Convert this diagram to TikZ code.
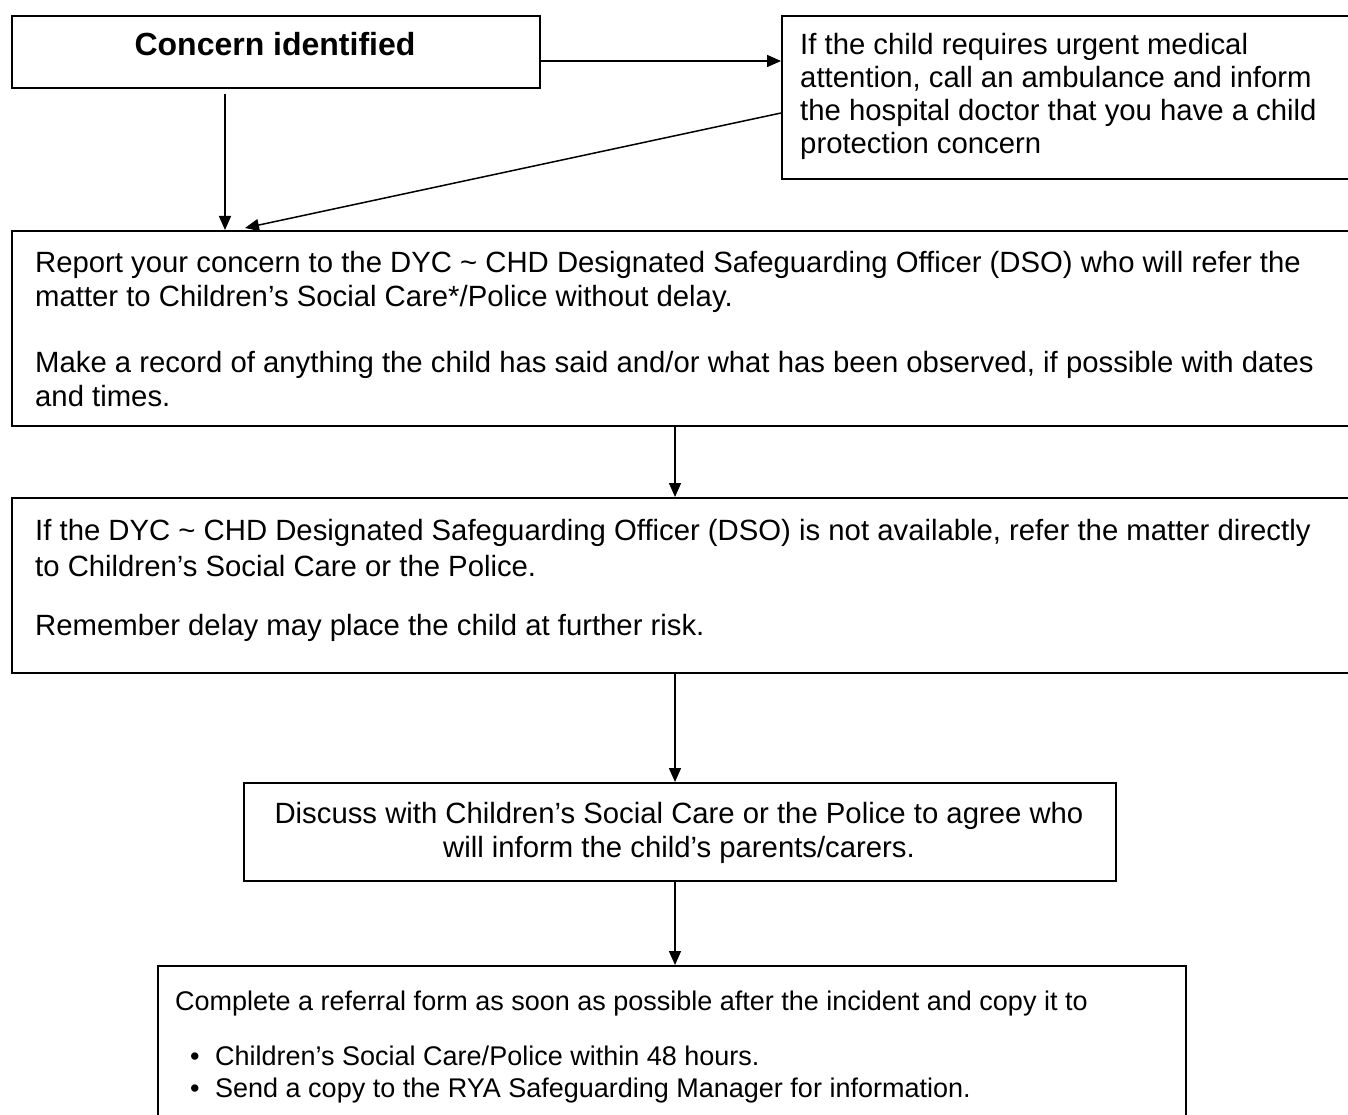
\documentclass[tikz,border=0pt]{standalone}
\usepackage{fontspec}
\setmainfont{Liberation Sans}
\usetikzlibrary{arrows.meta,calc}
\begin{document}
\begin{tikzpicture}[x=1pt,y=-1pt,
  box/.style={draw, line width=1.8pt, rectangle, inner sep=0pt, anchor=north west},
  txt/.style={inner sep=0pt, anchor=base west, align=left, font=\fontsize{29.3}{34}\selectfont},
  ctxt/.style={inner sep=0pt, anchor=base, align=center, font=\fontsize{29.3}{34}\selectfont},
  stxt/.style={txt, font=\fontsize{27}{32}\selectfont},
  arr/.style={line width=1.5pt, -{Triangle[length=14pt,width=12pt]}}]
\useasboundingbox (0,0) rectangle (1348,1115);
\clip (0,0) rectangle (1348,1115);
\node[box, minimum width=528pt, minimum height=72pt] (A) at (11,15) {};
\node[box, minimum width=600pt, minimum height=163pt] (B) at (781,15) {};
\node[box, minimum width=1400pt, minimum height=195pt] (C) at (11,230) {};
\node[box, minimum width=1400pt, minimum height=175pt] (D) at (11,497) {};
\node[box, minimum width=872pt, minimum height=98pt] (E) at (243,782) {};
\node[box, minimum width=1028pt, minimum height=200pt] (F) at (157,965) {};

\node[ctxt, font=\fontsize{32}{36}\selectfont\bfseries] (tA) at (275,56) {Concern identified};
\node[txt, font=\fontsize{29.3}{33}\selectfont] (tB) at (800,154) {If the child requires urgent medical\\attention, call an ambulance and inform\\the hospital doctor that you have a child\\protection concern};
\node[txt] (tC1) at (35,306) {Report your concern to the DYC \textasciitilde{} CHD Designated Safeguarding Officer (DSO) who will refer the\\matter to Children’s Social Care*/Police without delay.};
\node[txt] (tC2) at (35,406) {Make a record of anything the child has said and/or what has been observed, if possible with dates\\and times.};
\node[txt, font=\fontsize{29.3}{36}\selectfont] (tD1) at (35,576) {If the DYC \textasciitilde{} CHD Designated Safeguarding Officer (DSO) is not available, refer the matter directly\\to Children’s Social Care or the Police.};
\node[txt] (tD2) at (35,635) {Remember delay may place the child at further risk.};
\node[ctxt] (tE) at (679,857) {Discuss with Children’s Social Care or the Police to agree who\\will inform the child’s parents/carers.};
\node[stxt] (tF1) at (175,1010) {Complete a referral form as soon as possible after the incident and copy it to};
\node[stxt] (bF1) at (190,1065) {•};
\node[stxt] (tF2) at (215,1065) {Children’s Social Care/Police within 48 hours.};
\node[stxt] (bF2) at (190,1097) {•};
\node[stxt] (tF3) at (215,1097) {Send a copy to the RYA Safeguarding Manager for information.};

\draw[arr] ([yshift=-46pt]A.north east) -- ([yshift=-46pt]B.north west);
\draw[arr] ([xshift=214pt,yshift=-5pt]A.south west) -- ([xshift=214pt]C.north west);
\draw[arr] ([yshift=-98pt]B.north west) -- ([xshift=234pt,yshift=2pt]C.north west);
\draw[arr] ([xshift=664pt]C.south west) -- ([xshift=664pt]D.north west);
\draw[arr] ([xshift=664pt]D.south west) -- ([xshift=432pt]E.north west);
\draw[arr] ([xshift=432pt]E.south west) -- ([xshift=518pt]F.north west);
\end{tikzpicture}
\end{document}
